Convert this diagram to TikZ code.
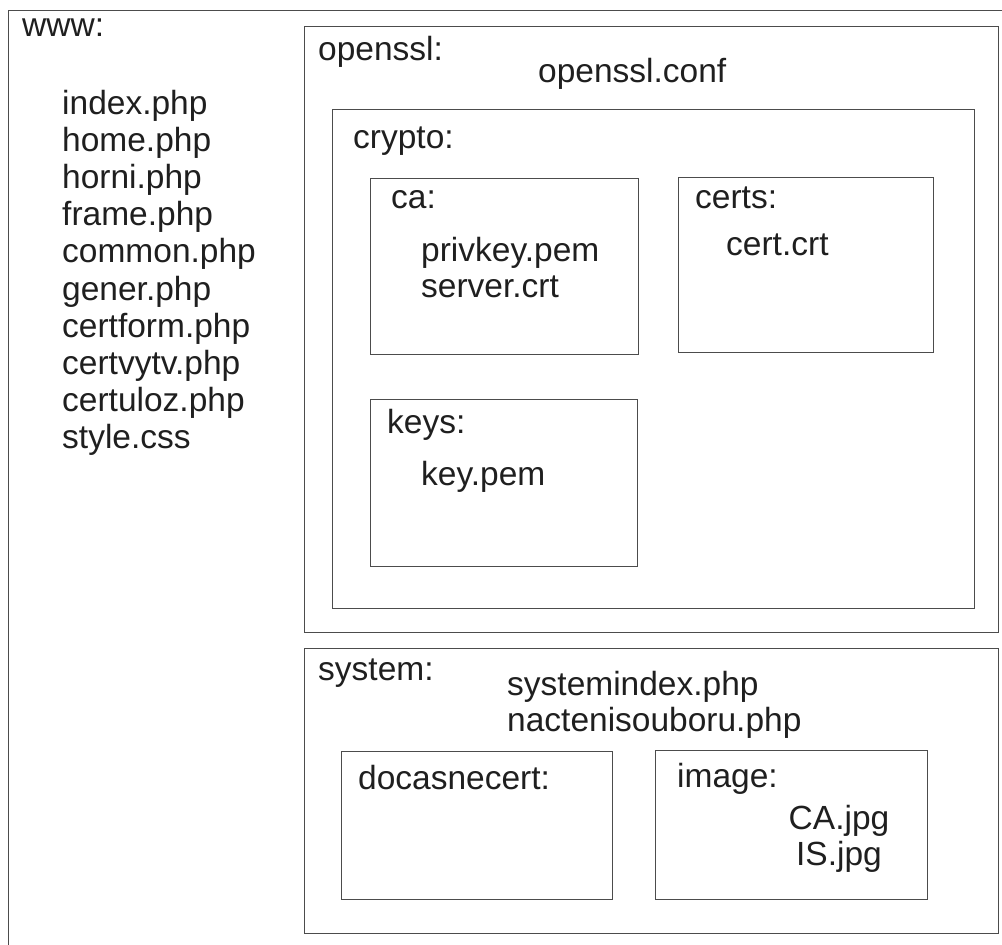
\documentclass[tikz,border=0pt]{standalone}
\usepackage{fontspec}
\setmainfont{Liberation Sans}
\usepackage{tikz}
\usetikzlibrary{positioning}
\usepackage{xcolor}

\tikzset{
    folder/.style={draw=black!70, line width=1pt},
    fname/.style={anchor=base west, inner sep=0pt, text=black!88, font=\fontsize{33.5}{38}\selectfont}
}

\begin{document}
\begin{tikzpicture}[x=1pt, y=-1pt]
        \useasboundingbox (0,0) rectangle (1002,945);
        \clip (0,0) rectangle (1002,945);
        % folders
        \draw[folder] (8,960) -- (8,10) -- (1010,10);
        \draw[folder] (304,26) rectangle (998,632);
        \draw[folder] (332,109) rectangle (974,608);
        \draw[folder] (370,178) rectangle (638,354);
        \draw[folder] (678,177) rectangle (933,352);
        \draw[folder] (370,399) rectangle (637,566);
        \draw[folder] (304,648) rectangle (998,933);
        \draw[folder] (341,751) rectangle (612,899);
        \draw[folder] (655,750) rectangle (927,899);

        % www
        \node[fname] (www) at (22,36) {www:};
        \foreach \i/\f in {0/index.php, 1/home.php, 2/horni.php, 3/frame.php, 4/common.php,
            5/gener.php, 6/certform.php, 7/certvytv.php, 8/certuloz.php, 9/style.css}
        {
            \node[fname] (www\i) at (62,114+37.2*\i) {\f};
        }

        % openssl
        \node[fname] (openssl) at (318,60) {openssl:};
        \node[fname] (conf) at (538,82) {openssl.conf};
        \node[fname] (crypto) at (353,148) {crypto:};
        \node[fname] (ca) at (391,208) {ca:};
        \node[fname] (privkey) at (421,261) {privkey.pem};
        \node[fname] (server) at (421,297) {server.crt};
        \node[fname] (certs) at (695,208) {certs:};
        \node[fname] (cert) at (726,255) {cert.crt};
        \node[fname] (keys) at (387,433) {keys:};
        \node[fname] (key) at (421,485) {key.pem};

        % system
        \node[fname] (system) at (318,680) {system:};
        \node[fname] (sysindex) at (507,695) {systemindex.php};
        \node[fname] (nacteni) at (507,731) {nactenisouboru.php};
        \node[fname] (docasne) at (358,789) {docasnecert:};
        \node[fname] (image) at (677,787) {image:};
        \node[fname, anchor=base] (cajpg) at (839,829) {CA.jpg};
        \node[fname, anchor=base] (isjpg) at (839,865) {IS.jpg};
\end{tikzpicture}
\end{document}
